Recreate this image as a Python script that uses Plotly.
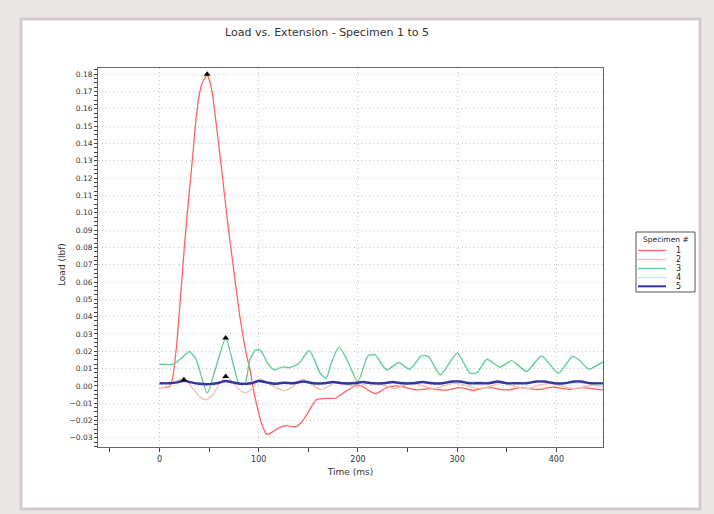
import plotly.graph_objects as go

# ---------------- data ----------------
specimen_names = ["1", "2", "3", "4", "5"]

t1 = [0, 5, 10, 13, 17, 21, 25, 29, 33, 37, 40, 43, 46, 48, 50, 53, 57, 61, 65, 69, 73, 77, 81, 85,
      88, 91, 94, 98, 103, 108, 113, 118, 123, 128, 133, 138, 143, 148, 153, 158, 163, 168, 173, 178,
      183, 188, 193, 198, 203, 208, 213, 218, 223, 228, 233, 238, 245, 252, 259, 266, 273, 280, 287,
      294, 301, 308, 315, 322, 329, 336, 343, 350, 357, 364, 371, 378, 385, 392, 399, 406, 413, 420,
      427, 434, 441, 448]
load1 = [-0.001, -0.001, -0.0005, 0.004, 0.022, 0.05, 0.08, 0.106, 0.13, 0.155, 0.168, 0.175, 0.178,
         0.18, 0.177, 0.17, 0.152, 0.133, 0.113, 0.093, 0.075, 0.057, 0.04, 0.026, 0.017, 0.01, 0.0,
         -0.011, -0.022, -0.028, -0.027, -0.025, -0.0235, -0.023, -0.0235, -0.0235, -0.021, -0.017,
         -0.012, -0.008, -0.0075, -0.0072, -0.0072, -0.007, -0.005, -0.003, -0.0015, 0.0005, 0.0,
         -0.0015, -0.0035, -0.0045, -0.003, -0.0013, -0.0005, 0.0, -0.0005, -0.0015, -0.0023, -0.002,
         -0.0015, -0.002, -0.0025, -0.002, -0.001, -0.0015, -0.0025, -0.002, -0.001, -0.0012, -0.002,
         -0.0023, -0.0018, -0.001, -0.0015, -0.002, -0.002, -0.001, -0.0008, -0.0015, -0.002, -0.0015,
         -0.001, -0.0015, -0.002, -0.0022]

t2 = [0, 8, 16, 25, 33, 41, 47, 54, 60, 67, 74, 80, 86, 93, 101, 108, 116, 125, 133, 141, 146, 153,
      162, 170, 177, 183, 191, 200, 207, 215, 222, 230, 237, 245, 252, 260, 268, 276, 284, 292, 300,
      308, 316, 324, 332, 340, 348, 356, 364, 372, 380, 388, 396, 404, 412, 420, 428, 436, 444, 450]
load2 = [-0.001, -0.0005, 0.0025, 0.0042, -0.001, -0.0065, -0.008, -0.005, 0.001, 0.0054, 0.002,
         -0.002, -0.004, -0.002, 0.0042, 0.002, -0.0005, -0.0027, -0.001, 0.003, 0.0035, 0.001, -0.002,
         -0.0005, 0.002, 0.002, 0.0005, -0.0005, 0.001, 0.002, 0.001, -0.0005, -0.0015, 0.0, 0.0015,
         0.001, -0.0005, -0.0015, -0.0005, 0.001, 0.0015, 0.0005, -0.001, -0.0015, -0.0005, 0.001,
         0.0015, 0.0, -0.001, -0.0015, 0.0, 0.001, 0.0015, 0.0, -0.001, -0.0015, -0.0005, 0.0005, 0.0,
         -0.0005]

t3 = [0, 14, 22, 30, 37, 48, 56, 66.7, 75, 80, 86, 91, 97, 102, 109, 116, 124, 131, 140, 151, 162,
      168, 173, 181, 189, 200, 210, 217, 229, 241, 252, 264, 271, 283, 300, 313, 320, 330, 343, 355,
      370, 385, 402, 416, 422, 433, 446, 450]
load3 = [0.0125, 0.0125, 0.016, 0.0198, 0.0152, -0.0042, 0.009, 0.0276, 0.011, 0.0015, 0.001, 0.015,
         0.0208, 0.0204, 0.013, 0.0092, 0.011, 0.0105, 0.0127, 0.0204, 0.0073, 0.0044, 0.013, 0.0224,
         0.015, 0.0025, 0.0173, 0.018, 0.0092, 0.0135, 0.0096, 0.0173, 0.017, 0.0064, 0.0189, 0.0073,
         0.0076, 0.0154, 0.0108, 0.0146, 0.0083, 0.0173, 0.0073, 0.017, 0.0154, 0.0096, 0.0135, 0.0137]

t4 = [0, 15, 25, 35, 50, 66, 80, 100, 120, 145, 170, 200, 230, 260, 290, 320, 350, 380, 410, 450]
load4 = [0.0018, 0.002, 0.0028, 0.0018, 0.0012, 0.0026, 0.0014, 0.0026, 0.0016, 0.0024, 0.0015,
         0.0022, 0.0016, 0.0023, 0.0016, 0.0024, 0.0017, 0.0023, 0.0016, 0.002]

t5 = [0, 10, 18, 25, 32, 40, 50, 58, 66, 74, 82, 92, 100, 108, 116, 125, 135, 145, 155, 165, 175, 185,
      195, 205, 215, 225, 235, 245, 255, 265, 275, 285, 295, 303, 312, 322, 332, 341, 350, 360, 370,
      380, 388, 398, 408, 418, 425, 435, 450]
load5 = [0.0015, 0.0015, 0.002, 0.003, 0.002, 0.0012, 0.001, 0.0015, 0.0028, 0.002, 0.0012, 0.0015,
         0.0028, 0.002, 0.0012, 0.0018, 0.0015, 0.0025, 0.0015, 0.0015, 0.0022, 0.0015, 0.0015, 0.0022,
         0.0015, 0.0015, 0.0022, 0.0015, 0.0015, 0.0022, 0.0015, 0.0015, 0.0025, 0.0025, 0.0015,
         0.0015, 0.0015, 0.0025, 0.0015, 0.0015, 0.0015, 0.0025, 0.0025, 0.0015, 0.0015, 0.0025,
         0.0025, 0.0015, 0.0015]

peak_t = [48, 66.7, 66.7, 24.6]
peak_load = [0.18, 0.0276, 0.0054, 0.0035]

x_range = [-62, 447]
y_range = [-0.0353, 0.1836]

colors = ["#ff6464", "#f2bfb0", "#5fd096", "#c2e6f5", "#3434a4"]
widths = [1.3, 1.3, 1.4, 1.4, 2.4]

# ---------------- figure ----------------
W, H = 714, 514
L, R, T, B = 98, 603, 68, 447


def px(x):
    return (x - L) / (R - L)


def py(y):
    return (B - y) / (B - T)


FONT = "DejaVu Sans"
fig = go.Figure()

series = [(t1, load1), (t2, load2), (t3, load3), (t4, load4), (t5, load5)]
for i, (tt, vv) in enumerate(series):
    fig.add_trace(go.Scatter(x=tt, y=vv, mode="lines", name=specimen_names[i],
                             line=dict(color=colors[i], width=widths[i], shape="spline",
                                       smoothing=0.6),
                             showlegend=False, hoverinfo="skip"))

fig.add_trace(go.Scatter(x=peak_t, y=peak_load, mode="markers", showlegend=False,
                         marker=dict(symbol="triangle-up", size=6, color="black")))

shapes = [
    dict(type="rect", xref="paper", yref="paper", layer="below",
         x0=px(21), x1=px(700), y0=py(509), y1=py(19),
         fillcolor="white", line=dict(color="#d2caca", width=3)),
    # legend box
    dict(type="rect", xref="paper", yref="paper",
         x0=px(636), x1=px(695), y0=py(292), y1=py(232),
         fillcolor="white", line=dict(color="#555555", width=1)),
]
annotations = [
    dict(text="Specimen #", xref="paper", yref="paper", x=px(665.5), y=py(239),
         xanchor="center", yanchor="middle", showarrow=False,
         font=dict(family=FONT, size=7.5, color="#222")),
    dict(text="Load (lbf)", xref="paper", yref="paper", x=px(62), y=py(265),
         xanchor="center", yanchor="middle", showarrow=False, textangle=-90,
         font=dict(family=FONT, size=9, color="#333")),
]
leg_y = [250.5, 259.5, 268.5, 277.5, 286.3]
for i, name in enumerate(specimen_names):
    shapes.append(dict(type="line", xref="paper", yref="paper",
                       x0=px(638), x1=px(666), y0=py(leg_y[i]), y1=py(leg_y[i]),
                       line=dict(color=colors[i], width=widths[i] if i < 4 else 2)))
    annotations.append(dict(text=name, xref="paper", yref="paper", x=px(678), y=py(leg_y[i]),
                            xanchor="center", yanchor="middle", showarrow=False,
                            font=dict(family=FONT, size=8, color="#222")))

fig.update_layout(
    width=W, height=H,
    margin=dict(l=L, r=W - R, t=T, b=H - B, pad=0),
    paper_bgcolor="#ebe6e6",
    plot_bgcolor="white",
    font=dict(family=FONT, size=8, color="#333"),
    title=dict(text="Load vs. Extension - Specimen 1 to 5", x=327 / W, xanchor="center",
               y=1 - 32 / H, yanchor="middle",
               font=dict(family=FONT, size=11, color="#333")),
    showlegend=False,
    shapes=shapes,
    annotations=annotations,
)

GRID_DASH = "1px,3px"
fig.update_xaxes(
    range=x_range, dtick=100, tick0=0,
    showgrid=True, gridcolor="#c4c4c4", griddash=GRID_DASH, gridwidth=1,
    zeroline=False, showline=True, linecolor="#666", linewidth=1, mirror=True,
    ticks="outside", ticklen=4, tickcolor="#444",
    minor=dict(dtick=50, tick0=0, ticks="outside", ticklen=4, tickcolor="#444", showgrid=False),
    tickfont=dict(family=FONT, size=8, color="#333"),
    title=dict(text="Time (ms)", font=dict(family=FONT, size=9, color="#333"), standoff=6),
)
fig.update_yaxes(
    range=y_range, dtick=0.01, tick0=0, tickformat=".2f",
    showgrid=True, gridcolor="#c4c4c4", griddash=GRID_DASH, gridwidth=1,
    zeroline=False, showline=True, linecolor="#666", linewidth=1, mirror=True,
    ticks="outside", ticklen=3, tickcolor="#444",
    minor=dict(dtick=0.0025, tick0=0, ticks="outside", ticklen=3, tickcolor="#444", showgrid=False),
    tickfont=dict(family=FONT, size=7.5, color="#333"),
)

fig.write_html("out.html", config={"displayModeBar": False},
               post_script="document.body.style.margin='0px';")
